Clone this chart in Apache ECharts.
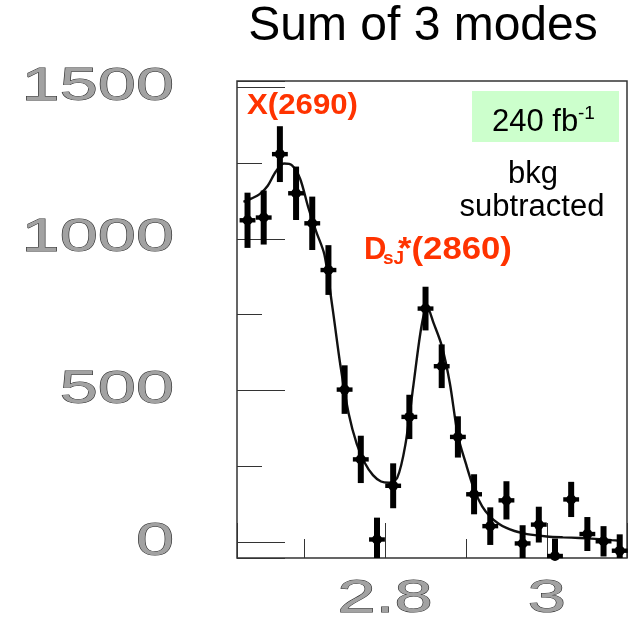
<!DOCTYPE html>
<html><head><meta charset="utf-8">
<script src="https://cdn.jsdelivr.net/npm/echarts@6/dist/echarts.min.js"></script>
<style>html,body{margin:0;padding:0;background:#fff}#c{width:631px;height:623px}</style>
</head><body><div id="c"></div>
<script>
// ---- data ----
const massBins = [2.63,2.65,2.67,2.69,2.71,2.73,2.75,2.77,2.79,2.81,2.83,2.85,2.87,2.89,2.91,2.93,2.95,2.97,2.99,3.01,3.03,3.05,3.07,3.09];
const counts   = [1061,1070,1279,1150,1051,897,503,273,9,186,413,770,580,347,158,53,138,-4,58,-48,141,27,3,-28];
const errors   = [91,89,92,88,88,82,80,78,72,74,73,72,72,68,66,62,63,60,59,60,58,56,50,54];
const fitX = [2.625,2.635,2.645,2.655,2.665,2.675,2.685,2.695,2.705,2.715,2.725,2.735,2.745,2.755,2.765,2.775,2.785,2.795,2.805,2.815,2.825,2.835,2.845,2.852,2.86,2.87,2.88,2.89,2.90,2.91,2.92,2.93,2.94,2.95,2.96,2.97,2.98,3.00,3.02,3.04,3.06,3.08,3.09];
const fitY = [1122,1133,1147,1175,1222,1248,1242,1198,1104,1023,948,773,579,424,324,261,221,200,196,212,320,517,712,776,722,648,525,352,258,175,118,84,62,47,37,30,25,19,16,14,11,7,5];
const yTickLabels = ['0','500','1000','1500'];
const xTickLabels = ['2.8','3'];
const titleText = 'Sum of 3 modes';
const peak1Label = 'X(2690)';
const peak2Main = 'D', peak2Sub = 'sJ', peak2Rest = '*(2860)';
const lumiText = '240 fb', lumiSup = '-1';
const noteLines = ['bkg', 'subtracted'];

const RED = '#ff3300';

const chart = echarts.init(document.getElementById('c'), null, {renderer: 'canvas'});
chart.setOption({
  animation: false,
  backgroundColor: '#ffffff',
  grid: {left: 237, right: 4, top: 81, bottom: 65, show: true, borderColor: '#333', borderWidth: 1.5, backgroundColor: 'transparent'},
  xAxis: {
    type: 'value', min: 2.617, max: 3.099, splitNumber: 2,
    axisLine: {show: false, onZero: false},
    splitLine: {show: false},
    axisTick: {show: true, inside: true, length: 35, lineStyle: {color: '#333', width: 1}},
    minorTick: {show: true, splitNumber: 2, length: 19, lineStyle: {color: '#333', width: 1}},
    axisLabel: {show: false}
  },
  yAxis: {
    type: 'value', min: -52, max: 1520, splitNumber: 3,
    axisLine: {show: false, onZero: false},
    splitLine: {show: false},
    axisTick: {show: true, inside: true, length: 48, lineStyle: {color: '#333', width: 1}},
    minorTick: {show: true, splitNumber: 2, length: 25, lineStyle: {color: '#333', width: 1}},
    axisLabel: {show: false}
  },
  series: [
    {
      type: 'line',
      data: fitX.map((x, i) => [x, fitY[i]]),
      showSymbol: false, smooth: 0.3,
      lineStyle: {color: '#111', width: 2.4},
      z: 2, silent: true
    },
    {
      type: 'custom',
      data: massBins.map((m, i) => [m, counts[i], errors[i]]),
      z: 3,
      renderItem: function (params, api) {
        const cs = params.coordSys;
        const x = api.value(0), y = api.value(1), e = api.value(2);
        const c = api.coord([x, y]);
        let top = api.coord([x, y + e])[1];
        let bot = api.coord([x, y - e])[1];
        top = Math.max(top, cs.y); bot = Math.min(bot, cs.y + cs.height);
        const hw = api.size([0.0098, 0])[0];
        const children = [
          {type: 'rect', shape: {x: c[0] - 3, y: top, width: 6, height: bot - top}, style: {fill: '#000'}}
        ];
        if (c[1] >= cs.y && c[1] <= cs.y + cs.height) {
          const cy = Math.min(c[1], cs.y + cs.height - 2);
          children.push({type: 'rect', shape: {x: c[0] - hw, y: cy - 2.2, width: hw * 2, height: 4.4}, style: {fill: '#000'}});
          children.push({type: 'circle', shape: {cx: c[0], cy: cy, r: 5}, style: {fill: '#000'}});
        }
        return {type: 'group', children: children};
      }
    }
  ]
});

// tick labels placed through the axes' own scales
const tickFont = {fontFamily: 'Liberation Sans', fontSize: 46, fill: '#a2a2a2', stroke: '#2e2e2e', lineWidth: 0.9};
const graphics = [];
yTickLabels.forEach(function (lab) {
  const py = chart.convertToPixel({yAxisIndex: 0}, Number(lab));
  graphics.push({type: 'text', x: 174, y: py, scaleX: 1.49, z: 10,
    style: Object.assign({text: lab, align: 'right', verticalAlign: 'middle'}, tickFont)});
});
xTickLabels.forEach(function (lab) {
  const px = chart.convertToPixel({xAxisIndex: 0}, Number(lab));
  graphics.push({type: 'text', x: px, y: 599, scaleX: 1.49, z: 10,
    style: Object.assign({text: lab, align: 'center', verticalAlign: 'middle'}, tickFont)});
});
graphics.push(
  {type: 'text', x: 423, y: 27, style: {text: titleText, fontFamily: 'Liberation Sans', fontSize: 48, fill: '#000', align: 'center', verticalAlign: 'middle'}},
  {type: 'text', x: 247, y: 106, z: 10, scaleX: 1.04, style: {text: peak1Label, fontFamily: 'Liberation Sans', fontWeight: 'bold', fontSize: 30, fill: RED, align: 'left', verticalAlign: 'middle'}},
  {type: 'text', x: 364, y: 250, z: 10, style: {text: peak2Main, fontFamily: 'Liberation Sans', fontWeight: 'bold', fontSize: 31, fill: RED, align: 'left', verticalAlign: 'middle'}},
  {type: 'text', x: 383, y: 259, z: 10, style: {text: peak2Sub, fontFamily: 'Liberation Sans', fontWeight: 'bold', fontSize: 19, fill: RED, align: 'left', verticalAlign: 'middle'}},
  {type: 'text', x: 398, y: 250, z: 10, scaleX: 1.12, style: {text: peak2Rest, fontFamily: 'Liberation Sans', fontWeight: 'bold', fontSize: 31, fill: RED, align: 'left', verticalAlign: 'middle'}},
  {type: 'rect', shape: {x: 472, y: 91, width: 147, height: 51}, style: {fill: '#ccffcc'}, z: 5},
  {type: 'text', x: 492, y: 122, z: 10, style: {text: lumiText, fontFamily: 'Liberation Sans', fontSize: 31, fill: '#000', align: 'left', verticalAlign: 'middle'}},
  {type: 'text', x: 578, y: 114, z: 10, style: {text: lumiSup, fontFamily: 'Liberation Sans', fontSize: 19, fill: '#000', align: 'left', verticalAlign: 'middle'}},
  {type: 'text', x: 533, y: 174, z: 10, style: {text: noteLines[0], fontFamily: 'Liberation Sans', fontSize: 31, fill: '#000', align: 'center', verticalAlign: 'middle'}},
  {type: 'text', x: 532, y: 207, z: 10, style: {text: noteLines[1], fontFamily: 'Liberation Sans', fontSize: 31, fill: '#000', align: 'center', verticalAlign: 'middle'}}
);
chart.setOption({graphic: graphics});
</script>
</body></html>
